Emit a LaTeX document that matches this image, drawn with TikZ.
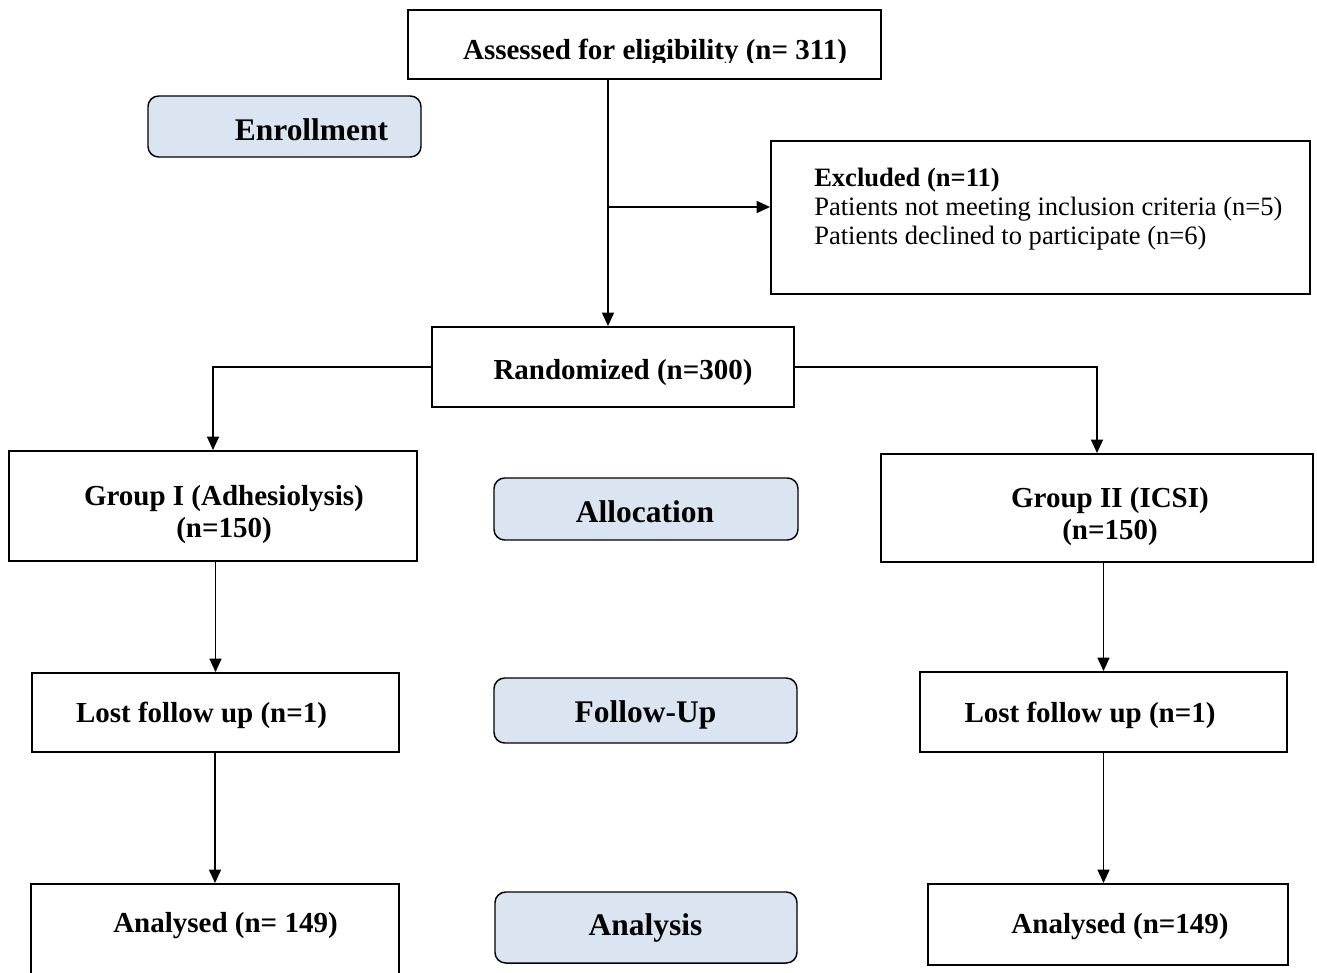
\documentclass[tikz,border=0pt]{standalone}
\usepackage{fontspec}
\setmainfont{Liberation Serif}
\usetikzlibrary{arrows.meta,fit}
\definecolor{lblue}{HTML}{DBE5F1}
\begin{document}
\begin{tikzpicture}[x=0.75pt,y=-0.75pt,
  box/.style={draw=black,line width=1.5pt,rectangle,inner sep=0pt},
  stage/.style={draw=black,line width=1.1pt,fill=lblue,rounded corners=8pt,inner sep=0pt},
  btxt/.style={font=\bfseries\fontsize{21.75pt}{26pt}\selectfont,inner sep=0pt,anchor=base},
  stxt/.style={font=\bfseries\fontsize{23.6pt}{28pt}\selectfont,inner sep=0pt,anchor=base},
  etxt/.style={font=\fontsize{19.9pt}{22pt}\selectfont,inner sep=0pt,anchor=base west},
  arr/.style={line width=1pt,-{Triangle[length=10pt,width=9pt]}}]
\useasboundingbox (0,0) rectangle (1317,972);
\clip (0,0) rectangle (1317,972);

% boxes
\node[box, fit={(408,10) (881,79)}] (assess) {};
\begin{scope}
  \clip (408,10) rectangle (881,62);
  \node[btxt] (assesst) at (655,59) {Assessed for eligibility (n= 311)};
\end{scope}

\node[stage, fit={(148,96) (421,157)}] (enroll) {};
\node[stxt] (enrollt) at (311.5,140) {Enrollment};

\node[box, fit={(771,141) (1310,294)}] (excl) {};
\node[etxt, font=\bfseries\fontsize{19.9pt}{22pt}\selectfont] (exclt1) at (814,186) {Excluded (n=11)};
\node[etxt] (exclt2) at (814,215) {Patients not meeting inclusion criteria (n=5)};
\node[etxt] (exclt3) at (814,244) {Patients declined to participate (n=6)};

\node[box, fit={(432,327) (794,407)}] (rand) {};
\node[btxt] (randt) at (623,379) {Randomized (n=300)};

\node[box, fit={(9,451) (417,561)}] (g1) {};
\node[btxt] (g1t1) at (224,505) {Group I (Adhesiolysis)};
\node[btxt] (g1t2) at (224,537) {(n=150)};

\node[box, fit={(881,454) (1313,562)}] (g2) {};
\node[btxt] (g2t1) at (1110,507) {Group II (ICSI)};
\node[btxt] (g2t2) at (1110,539) {(n=150)};

\node[stage, fit={(494,478) (798,540)}] (alloc) {};
\node[stxt] (alloct) at (645,522) {Allocation};

\node[box, fit={(32,673) (399,752)}] (lost1) {};
\node[btxt] (lost1t) at (201.5,722) {Lost follow up (n=1)};

\node[box, fit={(920,672) (1287,752)}] (lost2) {};
\node[btxt] (lost2t) at (1090,722) {Lost follow up (n=1)};

\node[stage, fit={(494,678) (797,743)}] (follow) {};
\node[stxt] (followt) at (645.5,722) {Follow-Up};

\node[box, fit={(31,884) (399,990)}] (ana1) {};
\node[btxt] (ana1t) at (225.5,932) {Analysed (n= 149)};

\node[box, fit={(928,884) (1288,965)}] (ana2) {};
\node[btxt] (ana2t) at (1120,933) {Analysed (n=149)};

\node[stage, fit={(495,892) (797,963)}] (analysis) {};
\node[stxt] (analysist) at (645.5,935) {Analysis};

% connectors
\coordinate (vx) at (608,0);
\coordinate (br) at (608,207);
\draw[arr] (assess.south -| vx) -- (rand.north -| vx);
\draw[arr] (br) -- (br -| excl.west);
\draw[arr] (rand.west) -| (g1.north);
\draw[arr] (rand.east) -| (g2.north);
\draw[arr] (g1.south -| lost1.north) -- (lost1.north);
\draw[arr] (g2.south -| lost2.north) -- (lost2.north);
\draw[arr] (lost1.south -| ana1.north) -- (ana1.north);
\draw[arr] (lost2.south) -- (lost2.south |- ana2.north);
\end{tikzpicture}
\end{document}
